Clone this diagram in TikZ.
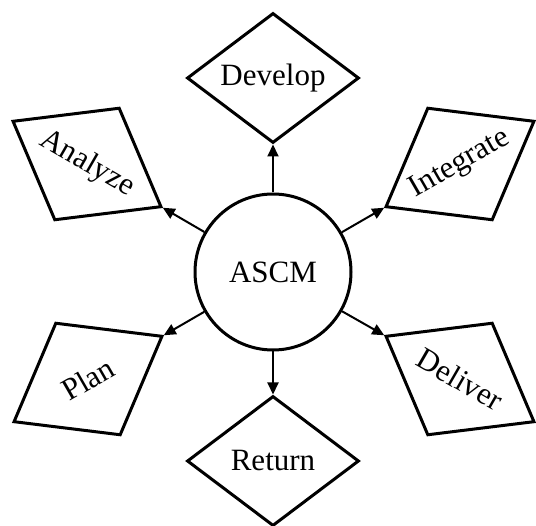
\documentclass[tikz,border=0pt]{standalone}
\usepackage{fontspec}
\setmainfont{Liberation Serif}
\usetikzlibrary{shapes.geometric,arrows.meta}

\tikzset{
  hub/.style={circle, draw, line width=3pt, minimum size=156pt, inner sep=0pt,
    font=\fontsize{31}{36}\selectfont},
  stage/.style={diamond, draw, line width=3pt, shape aspect=1.3,
    minimum width=172pt, minimum height=130pt, inner sep=0pt,
    font=\fontsize{31}{36}\selectfont},
  link/.style={line width=2pt, -{Triangle[length=12pt,width=11pt]}},
}

\begin{document}
\begin{tikzpicture}[x=1pt, y=-1pt]
  \useasboundingbox (0,0) rectangle (536,526);

  % central hub
  \node[hub] (ascm) at (273,272) {ASCM};

  % the six stages around it
  \node[stage] (develop) at (273,78) {Develop};
  \node[stage] (return) at (273,461) {Return};
  \node[stage, rotate=-30] (analyze) at (87,164) {Analyze};
  \node[stage, rotate=30] (integrate) at (460,164) {Integrate};
  \node[stage, rotate=30] (plan) at (88,379) {Plan};
  \node[stage, rotate=-30] (deliver) at (460,379) {Deliver};

  % arrows from the hub to each stage
  \draw[link] (ascm) -- (develop.south);
  \draw[link] (ascm) -- (return.north);
  \draw[link] (ascm) -- (analyze.east);
  \draw[link] (ascm) -- (integrate.west);
  \draw[link] (ascm) -- (plan.east);
  \draw[link] (ascm) -- (deliver.west);
\end{tikzpicture}
\end{document}
